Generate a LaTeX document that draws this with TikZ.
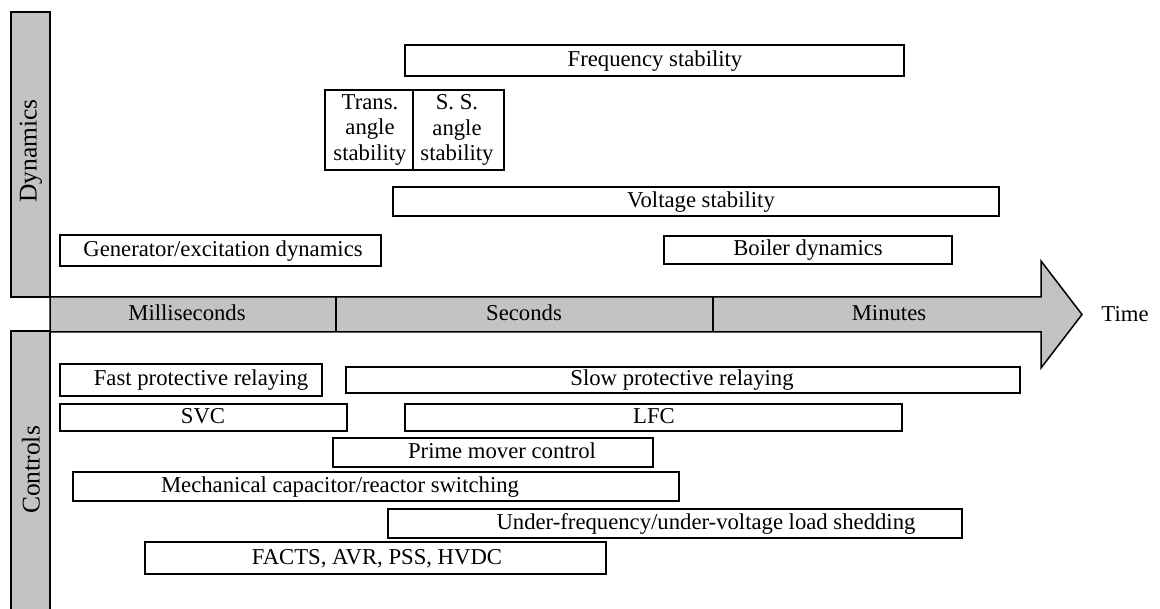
\documentclass[tikz,border=0pt]{standalone}
\usepackage{fontspec}
\setmainfont{Liberation Serif}
\definecolor{bargray}{RGB}{195,195,195}
\tikzset{
  outline/.style={draw=black, line width=1.5pt, line join=miter},
  band/.style={outline, fill=bargray},
  spanbox/.style={outline, fill=white},
  lbl/.style={inner sep=0pt, anchor=base, font=\fontsize{22.7}{25.7}\selectfont},
  stack/.style={inner sep=0pt, anchor=center, align=center, font=\fontsize{22.7}{25.7}\selectfont},
  sidelbl/.style={inner sep=0pt, anchor=center, rotate=90, font=\fontsize{25.5}{28}\selectfont}
}
% #1 name, (#2,#3)-(#4,#5) corners, #6 text centre x, #7 text
\newcommand{\spanitem}[7]{%
  \draw[spanbox] (#2,#3) rectangle (#4,#5);
  \node[lbl] (#1) at (#6,{(#3+#5)/2+6}) {#7};
}
\begin{document}
\begin{tikzpicture}[x=1pt,y=-1pt]
\useasboundingbox (0,0) rectangle (1160,609);

% time axis arrow
\draw[band] (50,297) -- (1041,297) -- (1041,261) -- (1082,314.5) -- (1041,368) -- (1041,332) -- (50,332) -- cycle;
\draw[outline] (336,297) -- (336,332);
\draw[outline] (713,297) -- (713,332);
\node[lbl] (ms) at (187,321) {Milliseconds};
\node[lbl] (sec) at (524,321) {Seconds};
\node[lbl] (min) at (889,321) {Minutes};
\node[lbl] (time) at (1125,322) {Time};

% side bands
\draw[band] (11,12) rectangle (50,297);
\draw[band] (11,331) rectangle (50,620);
\node[sidelbl] (dyn) at (31,151) {Dynamics};
\node[sidelbl] (ctl) at (31,470) {Controls};

% dynamics
\spanitem{freq}{405}{45}{904}{76}{655}{Frequency stability}
\draw[spanbox] (325,90) rectangle (413,170);
\draw[spanbox] (413,90) rectangle (504,170);
\node[stack] (trans) at (370,130) {Trans.\\angle\\stability};
\node[stack] (ss) at (457,130) {S. S.\\angle\\stability};
\spanitem{volt}{393}{187}{999}{216}{701}{Voltage stability}
\spanitem{gen}{60}{235}{381}{266}{223}{Generator/excitation dynamics}
\spanitem{boiler}{664}{236}{952}{264}{808}{Boiler dynamics}

% controls
\spanitem{fast}{60}{364}{322}{396}{201}{Fast protective relaying}
\spanitem{slow}{346}{367}{1020}{393}{682}{Slow protective relaying}
\spanitem{svc}{60}{404}{347}{431}{203}{SVC}
\spanitem{lfc}{405}{404}{902}{431}{654}{LFC}
\spanitem{prime}{333}{438}{653}{467}{502}{Prime mover control}
\spanitem{mech}{73}{472}{679}{501}{340}{Mechanical capacitor/reactor switching}
\spanitem{ufls}{388}{509}{962}{538}{706}{Under-frequency/under-voltage load shedding}
\spanitem{facts}{145}{542}{606}{574}{377}{FACTS, AVR, PSS, HVDC}
\end{tikzpicture}
\end{document}
